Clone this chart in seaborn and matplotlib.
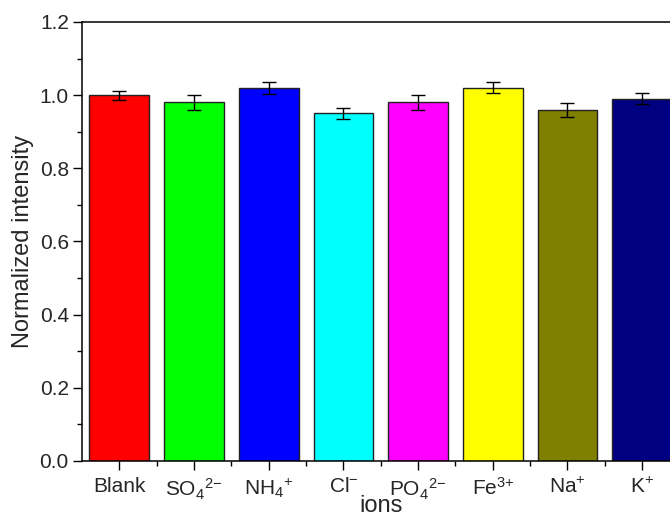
import matplotlib
matplotlib.use("Agg")
import matplotlib.pyplot as plt
from matplotlib.ticker import MultipleLocator, FixedLocator
import seaborn as sns
import pandas as pd

# ion labels and normalized intensity
ions = ["Blank", "SO$_4$$^{2{-}}$", "NH$_4$$^{{+}}$", "Cl$^{{-}}$",
        "PO$_4$$^{2{-}}$", "Fe$^{3{+}}$", "Na$^{{+}}$", "K$^{{+}}$"]
intensity = [1.00, 0.98, 1.02, 0.95, 0.98, 1.02, 0.96, 0.99]
errors = [0.012, 0.020, 0.016, 0.015, 0.020, 0.015, 0.019, 0.015]
bar_colors = ["#FF0000", "#00FF00", "#0000FF", "#00FFFF",
              "#FF00FF", "#FFFF00", "#808000", "#000080"]

sns.set_style("ticks")
plt.rcParams['font.family'] = ['Liberation Sans', 'DejaVu Sans']
plt.rcParams['mathtext.fontset'] = 'custom'
plt.rcParams['mathtext.rm'] = 'Liberation Sans'
plt.rcParams['mathtext.it'] = 'Liberation Sans:italic'
plt.rcParams['mathtext.bf'] = 'Liberation Sans:bold'

df = pd.DataFrame({"ion": ions, "value": intensity})

fig = plt.figure(figsize=(6.7, 5.2), dpi=100)
ax = fig.add_axes([82 / 670, 1 - 461 / 520, (679.5 - 82) / 670, (461 - 22) / 520])

sns.barplot(data=df, x="ion", y="value", hue="ion", palette=bar_colors,
            legend=False, width=0.8, edgecolor="#222222", linewidth=1.0,
            saturation=1, ax=ax)
ax.errorbar(range(len(ions)), intensity, yerr=errors, fmt='none',
            ecolor='black', elinewidth=1.0, capsize=5, capthick=1.0)

ax.set_xlim(-0.5, len(ions) - 0.5)
ax.set_ylim(0, 1.2)
ax.yaxis.set_major_locator(MultipleLocator(0.2))
ax.yaxis.set_minor_locator(MultipleLocator(0.1))
ax.xaxis.set_minor_locator(FixedLocator([i + 0.5 for i in range(len(ions) - 1)]))
ax.set_yticks([0.0, 0.2, 0.4, 0.6, 0.8, 1.0, 1.2])
ax.set_yticklabels(["0.0", "0.2", "0.4", "0.6", "0.8", "1.0", "1.2"])

ax.tick_params(axis='both', which='major', direction='out', length=6.5,
               width=1.0, labelsize=15, color='black', pad=3)
ax.tick_params(axis='x', which='major', pad=5)
ax.tick_params(axis='both', which='minor', direction='out', length=3.5,
               width=1.0, color='black')
for s in ax.spines.values():
    s.set_linewidth(1.1)
    s.set_color('black')
    s.set_visible(True)

ax.set_xlabel("ions", fontsize=17, labelpad=-5)
ax.set_ylabel("Normalized intensity", fontsize=17, labelpad=4)

fig.savefig("out.png", dpi=100)
